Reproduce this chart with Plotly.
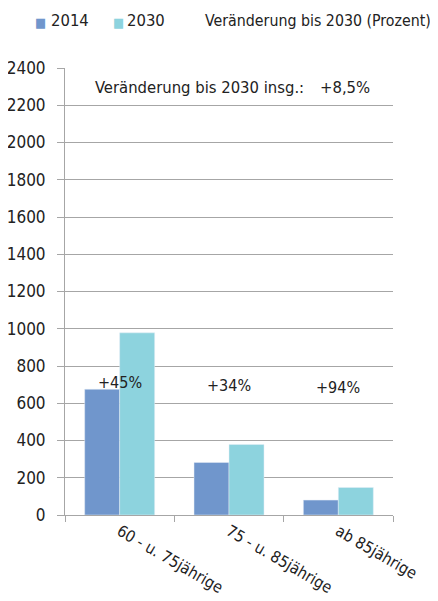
import plotly.graph_objects as go

categories = ['60 - u. 75jährige', '75 - u. 85jährige', 'ab 85jährige']
values_2014 = [675, 282, 80]
values_2030 = [978, 379, 148]
change_labels = ['+45%', '+34%', '+94%']
change_label_y = [714, 698, 687]
total_label = 'Veränderung bis 2030 insg.:'
total_value = '+8,5%'
legend_note = 'Veränderung bis 2030 (Prozent)'

FONT = 'DejaVu Sans Condensed, Liberation Sans Narrow, Liberation Sans, Arial'
C2014 = '#7096cc'
C2030 = '#8dd3de'
TXT = '#222222'


def px(sx):
    # screen x -> paper x (plot area spans 65..393 on screen)
    return (sx - 65) / 328


def py(sy):
    # screen y -> paper y (plot area spans 68..515 on screen)
    return 1 + (68 - sy) / 447


fig = go.Figure()
fig.add_trace(go.Bar(x=categories, y=values_2014, name='2014', marker_color=C2014, showlegend=False))
fig.add_trace(go.Bar(x=categories, y=values_2030, name='2030', marker_color=C2030, showlegend=False))

for cat, lab, yy in zip(categories, change_labels, change_label_y):
    fig.add_annotation(x=cat, y=yy, text=lab, showarrow=False, xref='x', yref='y',
                       font=dict(size=16, color=TXT, family=FONT))

fig.add_annotation(x=px(93), y=2293, xref='paper', yref='y', text=total_label,
                   showarrow=False, xanchor='left', font=dict(size=16.5, color=TXT, family=FONT))
fig.add_annotation(x=px(372), y=2293, xref='paper', yref='y', text=total_value,
                   showarrow=False, xanchor='right', font=dict(size=16.5, color=TXT, family=FONT))

# legend drawn as text
for sx, color in [(33, C2014), (111, C2030)]:
    fig.add_annotation(x=px(sx), y=py(22), xref='paper', yref='paper', text='■', showarrow=False,
                       xanchor='left', yanchor='middle', font=dict(size=13, color=color, family=FONT))
for sx, lab, fs in [(49, '2014', 16.5), (125, '2030', 16.5), (203, legend_note, 15.8)]:
    fig.add_annotation(x=px(sx), y=py(21), xref='paper', yref='paper', text=lab, showarrow=False,
                       xanchor='left', yanchor='middle', font=dict(size=fs, color=TXT, family=FONT))

fig.update_layout(
    width=430, height=593,
    margin=dict(l=57, r=45, t=60, b=86, autoexpand=False),
    paper_bgcolor='white', plot_bgcolor='white',
    barmode='group', bargap=0.36, bargroupgap=0,
    font=dict(family=FONT, size=16, color=TXT),
    xaxis=dict(showline=True, linecolor='#a6a6a6', ticks='outside', tickson='boundaries',
               tickcolor='#a6a6a6', ticklen=6, tickangle=30, tickfont=dict(size=16)),
    yaxis=dict(range=[0, 2400], dtick=200, showgrid=True, gridcolor='#a6a6a6',
               showline=True, linecolor='#a6a6a6', ticks='outside', tickcolor='#a6a6a6',
               ticklen=7, ticklabelstandoff=8, tickfont=dict(size=17), zeroline=False),
)

fig.write_html("out.html")
